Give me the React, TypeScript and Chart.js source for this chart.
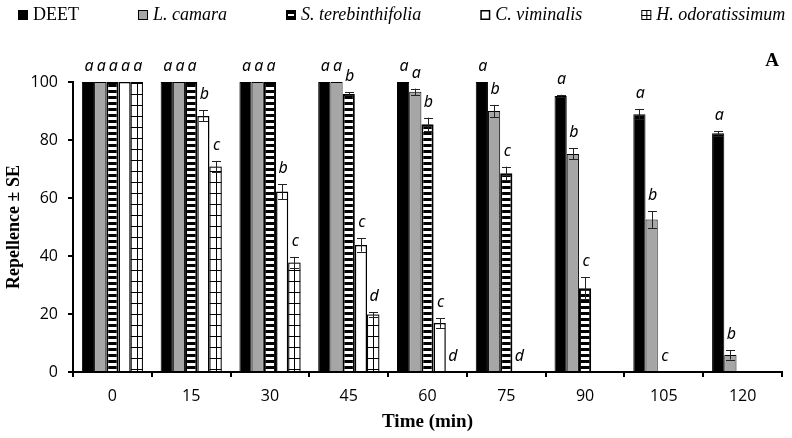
import React, { useEffect, useRef } from 'react';
import { Chart, registerables } from 'chart.js';

Chart.register(...registerables);

// ---- data ----
const timeLabels = ['0', '15', '30', '45', '60', '75', '90', '105', '120'];
const seriesNames = ['DEET', 'L. camara', 'S. terebinthifolia', 'C. viminalis', 'H. odoratissimum'];

const deetValues = [100, 100, 100, 100, 100, 100, 95.2, 88.9, 82.3];
const camaraValues = [100, 100, 100, 100, 96.6, 90, 75.2, 52.6, 5.9];
const terebValues = [100, 100, 100, 95.9, 85.4, 68.5, 28.9, 0, 0];
const viminalisValues = [100, 88.3, 62.2, 43.8, 16.9, 0, 0, 0, 0];
const odoratValues = [100, 70.8, 37.7, 19.8, 0, 0, 0, 0, 0];

const deetSE = [0, 0, 0, 0, 0, 0, 0.4, 1.7, 0.8];
const camaraSE = [0, 0, 0, 0, 1.1, 2.1, 1.9, 2.9, 1.6];
const terebSE = [0, 0, 0, 0.5, 2.3, 2.3, 3.7, 0, 0];
const viminalisSE = [0, 1.9, 2.6, 2.3, 1.7, 0, 0, 0, 0];
const odoratSE = [0, 1.9, 2.0, 0.9, 0, 0, 0, 0, 0];

const deetLetters = ['a', 'a', 'a', 'a', 'a', 'a', 'a', 'a', 'a'];
const camaraLetters = ['a', 'a', 'a', 'a', 'a', 'b', 'b', 'b', 'b'];
const terebLetters = ['a', 'a', 'a', 'b', 'b', 'c', 'c', 'c', ''];
const viminalisLetters = ['a', 'b', 'b', 'c', 'c', 'd', '', '', ''];
const odoratLetters = ['a', 'c', 'c', 'd', 'd', '', '', '', ''];

const yTickValues = [0, 20, 40, 60, 80, 100];
const panelLetter = 'A';
const xTitle = 'Time (min)';
const yTitle = 'Repellence ± SE';

const allSE = [deetSE, camaraSE, terebSE, viminalisSE, odoratSE];
const allLetters = [deetLetters, camaraLetters, terebLetters, viminalisLetters, odoratLetters];

const GRAY = '#a6a6a6';

function makeStripePattern(ctx: CanvasRenderingContext2D): CanvasPattern | string {
  const c = document.createElement('canvas');
  c.width = 4;
  c.height = 6;
  const g = c.getContext('2d');
  if (!g) return '#000';
  g.fillStyle = '#000';
  g.fillRect(0, 0, 4, 6);
  g.fillStyle = '#fff';
  g.fillRect(0, 3, 4, 3);
  return ctx.createPattern(c, 'repeat') || '#000';
}

const gridBarPlugin = {
  id: 'gridBars',
  afterDatasetsDraw(chart: any) {
    const ctx = chart.ctx;
    const meta = chart.getDatasetMeta(4);
    ctx.save();
    ctx.strokeStyle = '#000';
    ctx.lineWidth = 1;
    meta.data.forEach((el: any, i: number) => {
      if (!odoratValues[i]) return;
      const { x, y, base, width } = el.getProps(['x', 'y', 'base', 'width'], true);
      const l = x - width / 2;
      const r = x + width / 2;
      ctx.save();
      ctx.beginPath();
      ctx.rect(l, y, width, base - y);
      ctx.clip();
      ctx.beginPath();
      ctx.moveTo(Math.round(x) + 0.5, y);
      ctx.lineTo(Math.round(x) + 0.5, base);
      for (let yy = base - 2; yy > y; yy -= 11) {
        ctx.moveTo(l, Math.round(yy) + 0.5);
        ctx.lineTo(r, Math.round(yy) + 0.5);
      }
      ctx.stroke();
      ctx.restore();
      ctx.strokeRect(l + 0.5, y + 0.5, width - 1, base - y);
    });
    ctx.restore();
  },
};

const errorLetterPlugin = {
  id: 'errorLetters',
  afterDatasetsDraw(chart: any) {
    const ctx = chart.ctx;
    const yScale = chart.scales.y;
    ctx.save();
    chart.data.datasets.forEach((ds: any, di: number) => {
      const meta = chart.getDatasetMeta(di);
      meta.data.forEach((el: any, i: number) => {
        const v = ds.data[i];
        const se = allSE[di][i];
        const x = el.x;
        if (se > 0) {
          const yt = yScale.getPixelForValue(v + se);
          const yb = yScale.getPixelForValue(v - se);
          ctx.strokeStyle = '#222';
          ctx.lineWidth = 1;
          ctx.beginPath();
          const xx = Math.round(x) + 0.5;
          ctx.moveTo(xx, yt);
          ctx.lineTo(xx, yb);
          ctx.moveTo(xx - 4.5, Math.round(yt) + 0.5);
          ctx.lineTo(xx + 4.5, Math.round(yt) + 0.5);
          ctx.moveTo(xx - 4.5, Math.round(yb) + 0.5);
          ctx.lineTo(xx + 4.5, Math.round(yb) + 0.5);
          ctx.stroke();
        }
        const letter = allLetters[di][i];
        if (letter) {
          const yt = yScale.getPixelForValue(v + se);
          ctx.fillStyle = '#000';
          ctx.font = 'italic 16px "Noto Sans", "Open Sans"';
          ctx.textAlign = 'center';
          ctx.textBaseline = 'alphabetic';
          ctx.fillText(letter, x + 1, yt - 11);
        }
      });
    });
    ctx.restore();
  },
};

function drawLegendBox(ctx: CanvasRenderingContext2D, idx: number, x: number, y: number) {
  const s = 10;
  ctx.save();
  ctx.lineWidth = 1;
  ctx.strokeStyle = '#000';
  if (idx === 0) {
    ctx.fillStyle = '#000';
    ctx.fillRect(x, y, s, s);
  } else if (idx === 1) {
    ctx.fillStyle = GRAY;
    ctx.fillRect(x, y, s, s);
    ctx.strokeRect(x + 0.5, y + 0.5, s - 1, s - 1);
  } else if (idx === 2) {
    ctx.fillStyle = '#000';
    ctx.fillRect(x, y, s, s);
    ctx.fillStyle = '#fff';
    ctx.fillRect(x + 2, y + 4, s - 4, 2);
  } else if (idx === 3) {
    ctx.fillStyle = '#fff';
    ctx.fillRect(x, y, s, s);
    ctx.lineWidth = 1.5;
    ctx.strokeRect(x + 0.75, y + 0.75, s - 1.5, s - 1.5);
  } else {
    ctx.fillStyle = '#fff';
    ctx.fillRect(x, y, s, s);
    ctx.strokeRect(x + 0.5, y + 0.5, s - 1, s - 1);
    ctx.beginPath();
    ctx.moveTo(x + 5.5, y);
    ctx.lineTo(x + 5.5, y + s);
    ctx.moveTo(x, y + 5.5);
    ctx.lineTo(x + s, y + 5.5);
    ctx.stroke();
  }
  ctx.restore();
}

const legendPlugin = {
  id: 'customLegend',
  afterDraw(chart: any) {
    const ctx = chart.ctx;
    ctx.save();
    let x = 18;
    const baseline = 20;
    seriesNames.forEach((name, i) => {
      drawLegendBox(ctx, i, x, baseline - 10);
      ctx.font = (i === 0 ? '' : 'italic ') + '18px "Liberation Serif"';
      ctx.fillStyle = '#000';
      ctx.textAlign = 'left';
      ctx.textBaseline = 'alphabetic';
      const tx = x + 15;
      ctx.fillText(name, tx, baseline);
      x = tx + ctx.measureText(name).width + 59;
    });
    ctx.font = 'bold 19px "Liberation Serif"';
    ctx.textAlign = 'center';
    ctx.fillText(panelLetter, 772, 66);
    ctx.restore();
  },
};

export default function App() {
  const ref = useRef<HTMLCanvasElement | null>(null);
  useEffect(() => {
    const canvas = ref.current;
    if (!canvas) return;
    const ctx = canvas.getContext('2d') as CanvasRenderingContext2D;
    const stripe = makeStripePattern(ctx);
    const chart = new Chart(canvas, {
      type: 'bar',
      data: {
        labels: timeLabels,
        datasets: [
          { label: seriesNames[0], data: deetValues, backgroundColor: '#000', borderColor: '#000', borderWidth: 1 },
          { label: seriesNames[1], data: camaraValues, backgroundColor: GRAY, borderColor: '#000', borderWidth: 1 },
          { label: seriesNames[2], data: terebValues, backgroundColor: stripe as any, borderColor: '#000', borderWidth: 2 },
          { label: seriesNames[3], data: viminalisValues, backgroundColor: '#fff', borderColor: '#000', borderWidth: 1.5 },
          { label: seriesNames[4], data: odoratValues, backgroundColor: '#fff', borderColor: '#000', borderWidth: 0 },
        ],
      },
      options: {
        animation: false,
        responsive: false,
        devicePixelRatio: 1,
        datasets: { bar: { categoryPercentage: 0.775, barPercentage: 1 } },
        layout: { padding: { top: 82, right: 10, left: 0, bottom: 0 } },
        plugins: { legend: { display: false }, tooltip: { enabled: false }, title: { display: false } },
        scales: {
          x: {
            offset: true,
            grid: { display: true, drawOnChartArea: false, drawTicks: true, tickLength: 5, lineWidth: 2, color: '#000', offset: true },
            border: { display: true, color: '#000', width: 2 },
            ticks: { color: '#000', font: { family: 'Open Sans', size: 16 }, padding: 10, maxRotation: 0 },
            title: {
              display: true,
              text: xTitle,
              color: '#000',
              font: { family: 'Liberation Serif', size: 19, weight: 'bold' },
              padding: { top: 0, bottom: 5 },
            },
            afterFit: (s: any) => {
              s.height = 66;
            },
          },
          y: {
            min: 0,
            max: 100,
            afterBuildTicks: (s: any) => {
              s.ticks = yTickValues.map((v) => ({ value: v }));
            },
            grid: { display: true, drawOnChartArea: false, drawTicks: true, tickLength: 5, lineWidth: 2, color: '#000' },
            border: { display: true, color: '#000', width: 2 },
            ticks: { color: '#000', font: { family: 'Open Sans', size: 16 }, padding: 10 },
            title: {
              display: true,
              text: yTitle,
              color: '#000',
              font: { family: 'Liberation Serif', size: 18, weight: 'bold' },
              padding: { top: 4, bottom: 0 },
            },
            afterFit: (s: any) => {
              s.width = 73;
            },
          },
        },
      } as any,
      plugins: [gridBarPlugin, errorLetterPlugin, legendPlugin],
    });
    return () => chart.destroy();
  }, []);

  return (
    <div style={{ position: 'fixed', left: 0, top: 0, width: 792, height: 438, background: '#fff' }}>
      <canvas ref={ref} width={792} height={438} style={{ display: 'block' }} />
    </div>
  );
}
